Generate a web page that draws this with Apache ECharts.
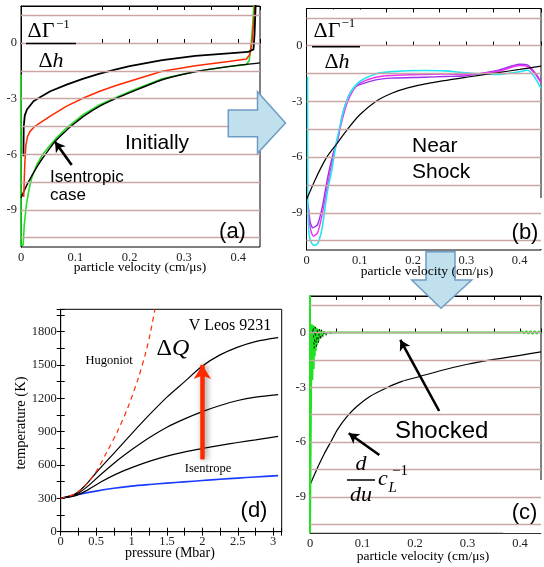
<!DOCTYPE html>
<html><head><meta charset="utf-8">
<script src="https://cdn.jsdelivr.net/npm/echarts@6/dist/echarts.min.js"></script>
<style>html,body{margin:0;padding:0;background:#fff}#c{width:544px;height:567px}</style>
</head><body><div id="c"></div>
<script>
// ---------- tick labels ----------
const velTickLabels = [0, 0.1, 0.2, 0.3, 0.4];
const gammaTickLabels = [0, -3, -6, -9];
const gridLevels = [1.5, 0, -1.5, -3, -4.5, -6, -7.5, -9, -10.5];
const pressTickLabels = [0, 0.5, 1, 1.5, 2, 2.5, 3];
const tempTickLabels = [0, 300, 600, 900, 1200, 1500, 1800];

// ---------- panel (a): Initially ----------
const aGreen = [[0,-1.7],[0,-10.9],[0.004,-10.9],[0.006,-9.8],[0.01,-8.7],[0.015,-7.85],[0.02,-7.25],[0.03,-6.5],[0.04,-6.0],[0.054,-5.5],[0.066,-5.1],[0.084,-4.57],[0.1,-4.2],[0.115,-3.85],[0.145,-3.33],[0.175,-2.93],[0.206,-2.55],[0.26,-1.92],[0.321,-1.53],[0.382,-1.26],[0.415,-1.16],[0.42,-0.95],[0.423,-0.3],[0.426,0.8],[0.429,2.1]];
const aIsentrope = [[0,-8.35],[0.01,-7.7],[0.02,-7.15],[0.03,-6.65],[0.04,-6.2],[0.05,-5.8],[0.063,-5.3],[0.084,-4.7],[0.1,-4.3],[0.115,-3.95],[0.145,-3.4],[0.175,-2.98],[0.206,-2.6],[0.26,-1.98],[0.321,-1.55],[0.382,-1.27],[0.44,-1.07]];
const aRed = [[0.005,-8.3],[0.007,-6.5],[0.009,-5.5],[0.012,-5.05],[0.017,-4.75],[0.025,-4.5],[0.035,-4.3],[0.054,-3.94],[0.084,-3.4],[0.115,-2.96],[0.145,-2.6],[0.175,-2.29],[0.206,-2.01],[0.26,-1.52],[0.321,-1.22],[0.382,-0.99],[0.415,-0.86],[0.421,-0.63],[0.425,0],[0.428,1],[0.431,2.1]];
const aBlack = [[0.0045,-6.1],[0.005,-4.5],[0.007,-3.9],[0.011,-3.58],[0.023,-3.14],[0.035,-2.92],[0.054,-2.6],[0.084,-2.24],[0.115,-1.92],[0.145,-1.65],[0.175,-1.42],[0.2,-1.24],[0.26,-0.92],[0.321,-0.69],[0.382,-0.55],[0.418,-0.48],[0.421,-0.38],[0.428,-0.34],[0.43,0.5],[0.432,2.1]];

// ---------- panel (b): Near Shock ----------
const bBlack = [[0,-8.28],[0.015,-7.3],[0.027,-6.58],[0.039,-5.96],[0.058,-5.24],[0.076,-4.53],[0.1,-3.72],[0.13,-3.0],[0.16,-2.56],[0.19,-2.27],[0.233,-2.0],[0.3,-1.7],[0.36,-1.45],[0.4,-1.28],[0.44,-1.1]];
const bCyan = [[0.002,-1.66],[0.0025,-8.5],[0.005,-10.2],[0.01,-10.65],[0.015,-10.75],[0.02,-10.68],[0.024,-10.45],[0.03,-9.7],[0.039,-7.9],[0.048,-6.6],[0.056,-5.2],[0.064,-4.2],[0.07,-3.45],[0.082,-2.56],[0.1,-1.93],[0.13,-1.52],[0.16,-1.4],[0.221,-1.34],[0.26,-1.36],[0.3,-1.46],[0.36,-1.55],[0.397,-1.42],[0.415,-1.32],[0.427,-1.66],[0.44,-2.3]];
const bMagenta = [[0.003,-8.6],[0.007,-9.8],[0.013,-10.25],[0.021,-10.07],[0.03,-9.0],[0.039,-7.57],[0.05,-6.0],[0.058,-5.1],[0.066,-4.1],[0.076,-3.1],[0.088,-2.38],[0.1,-2.02],[0.13,-1.7],[0.16,-1.61],[0.221,-1.55],[0.26,-1.53],[0.3,-1.55],[0.36,-1.38],[0.4,-1.07],[0.415,-1.13],[0.43,-1.57],[0.44,-2.0]];
const bPurple = [[0.003,-8.5],[0.007,-9.5],[0.012,-9.8],[0.021,-9.62],[0.03,-8.64],[0.039,-7.2],[0.05,-5.8],[0.059,-5.0],[0.066,-3.9],[0.076,-2.92],[0.088,-2.29],[0.1,-2.1],[0.13,-1.84],[0.16,-1.75],[0.221,-1.7],[0.26,-1.66],[0.3,-1.62],[0.36,-1.32],[0.4,-1.0],[0.415,-1.05],[0.43,-1.5],[0.44,-1.95]];

// ---------- panel (c): Shocked ----------
const cBlack = [[0,-8.35],[0.0154,-7.34],[0.0277,-6.61],[0.04,-5.97],[0.052,-5.33],[0.0707,-4.6],[0.089,-4.05],[0.114,-3.5],[0.1445,-3.05],[0.175,-2.68],[0.209,-2.41],[0.25,-2.08],[0.3,-1.74],[0.35,-1.47],[0.4,-1.25],[0.44,-1.06]];
const cGreen = [[0,2.1],[0,-11],[0.002,-11],[0.003,0.45],[0.0045,-2.6],[0.006,0.4],[0.007,-2.0],[0.008,0.35],[0.009,-1.3],[0.01,0.3],[0.011,-1.0],[0.012,0.25],[0.0135,-0.7],[0.015,0.2],[0.0165,-0.45],[0.018,0.15],[0.02,-0.3],[0.022,0.1],[0.024,-0.15],[0.027,0.06],[0.03,-0.06],[0.034,0],[0.4,0],[0.404,0.06],[0.408,-0.05],[0.412,0.07],[0.416,-0.06],[0.42,0.08],[0.424,-0.07],[0.428,0.07],[0.432,-0.06],[0.436,0.05],[0.44,-0.04]];
const cRed = [[0.004,0],[0.44,0]];
const cBlackNoise = [[0.005,0],[0.006,0.3],[0.008,-0.9],[0.01,0.3],[0.012,-0.8],[0.014,0.25],[0.016,-0.6],[0.018,0.2],[0.02,-0.45],[0.022,0.15],[0.025,-0.3],[0.028,0.1],[0.031,-0.15],[0.035,0.05],[0.04,-0.05],[0.045,0],[0.44,0]];

// ---------- panel (d): V Leos 9231 ----------
const dIsentrope = [[0,300],[0.25,335],[0.5,365],[0.75,390],[1.0,410],[1.26,425],[1.5,437],[1.74,448],[2.0,460],[2.25,472],[2.5,482],[2.75,492],[3.07,504]];
const dTop = [[0,300],[0.2,338],[0.35,418],[0.5,530],[0.75,705],[1.0,880],[1.25,1050],[1.5,1210],[1.75,1350],[2.0,1490],[2.25,1590],[2.5,1660],[2.75,1710],[3.07,1745]];
const dMid = [[0,300],[0.2,330],[0.35,392],[0.55,505],[0.8,640],[1.03,750],[1.26,850],[1.5,940],[1.75,1015],[2.0,1080],[2.25,1135],[2.5,1180],[2.75,1210],[3.07,1233]];
const dLow = [[0,300],[0.2,322],[0.35,365],[0.56,445],[0.79,520],[1.03,583],[1.26,635],[1.5,680],[1.74,716],[2.0,748],[2.25,776],[2.5,802],[2.75,826],[3.07,858]];
const dHugoniot = [[0,300],[0.2,338],[0.35,418],[0.5,540],[0.65,715],[0.8,900],[0.95,1120],[1.1,1390],[1.2,1610],[1.27,1800],[1.33,2000]];

// ---------- formatting helpers ----------
const SERIF = "'Liberation Serif', 'DejaVu Serif', serif";
const SANS = "'Liberation Sans', Arial, sans-serif";
const fmtVel = v => { const r = Math.round(v * 100) / 100; return velTickLabels.includes(r) ? String(r) : ''; };
const fmtGamma = v => gammaTickLabels.includes(v) ? String(v) : '';
const fmtPress = v => pressTickLabels.includes(v) ? String(v) : '';
const fmtTemp = v => tempTickLabels.includes(v) ? String(v) : '';

const grids = [
  {left: 21, top: 6, width: 239, height: 241},
  {left: 306.5, top: 8.5, width: 243, height: 241.5},
  {left: 310, top: 296, width: 238.5, height: 237.3},
  {left: 60.7, top: 309.3, width: 221, height: 222.4}
].map(g => Object.assign({show: true, borderColor: '#000', borderWidth: 1, backgroundColor: 'transparent'}, g));

const lbl = (fmt, size) => ({formatter: fmt, fontFamily: SERIF, fontSize: size, color: '#222', margin: 4});
const tick = {show: true, inside: true, length: 4, lineStyle: {color: '#000', width: 1}};
const axLine = {show: true, lineStyle: {color: '#000', width: 1}};

function xPair(gi, max, interval, fmt, size) {
  return [
    {gridIndex: gi, type: 'value', position: 'bottom', min: 0, max, interval, axisLine: axLine, axisTick: tick, axisLabel: lbl(fmt, size), splitLine: {show: false}},
    {gridIndex: gi, type: 'value', position: 'top', min: 0, max, interval, axisLine: axLine, axisTick: tick, axisLabel: {show: false}, splitLine: {show: false}}
  ];
}
const xAxis = [].concat(
  xPair(0, 0.44, 0.05, fmtVel, 12.5),
  xPair(1, 0.44, 0.05, fmtVel, 12.5),
  xPair(2, 0.44, 0.05, fmtVel, 12.5),
  xPair(3, 3.12, 0.25, fmtPress, 12.5)
);
const yGamma = gi => ({gridIndex: gi, type: 'value', min: -11, max: 2, interval: 1, axisLine: axLine, axisTick: {show: false}, axisLabel: lbl(fmtGamma, 12.5), splitLine: {show: false}});
const yAxis = [
  yGamma(0), yGamma(1), yGamma(2),
  {gridIndex: 3, type: 'value', min: 0, max: 2000, interval: 150, axisLine: axLine, axisTick: tick, axisLabel: lbl(fmtTemp, 12.5), splitLine: {show: false}},
  {gridIndex: 3, type: 'value', position: 'right', min: 0, max: 2000, interval: 150, axisLine: axLine, axisTick: tick, axisLabel: {show: false}, splitLine: {show: false}}
];

function curve(data, xi, yi, color, width, extra) {
  return Object.assign({type: 'line', data, xAxisIndex: xi, yAxisIndex: yi, symbol: 'none', showSymbol: false,
    lineStyle: {color, width}, z: 3, silent: true, animation: false}, extra || {});
}
function gridLineSeries(xi, yi) {
  return {type: 'line', data: [], xAxisIndex: xi, yAxisIndex: yi, z: 1, silent: true,
    markLine: {silent: true, symbol: ['none', 'none'], label: {show: false}, animation: false,
      lineStyle: {color: '#c9a6a6', width: 1.3, type: 'solid'},
      emphasis: {disabled: true},
      data: gridLevels.map(v => ({yAxis: v}))}};
}
function arrowSeries(xi, yi, pairs, color, width, size, extraStyle) {
  return {type: 'line', data: [], xAxisIndex: xi, yAxisIndex: yi, z: 6, silent: true,
    markLine: {silent: true, symbol: ['none', 'arrow'], symbolSize: size, label: {show: false}, animation: false,
      lineStyle: Object.assign({color, width, type: 'solid'}, extraStyle || {}),
      emphasis: {disabled: true},
      data: pairs.map(p => [{coord: p[0]}, {coord: p[1]}])}};
}

const series = [
  gridLineSeries(0, 0), gridLineSeries(2, 1), gridLineSeries(4, 2),
  // (a)
  curve(aGreen, 0, 0, '#22e022', 1.6),
  curve(aIsentrope, 0, 0, '#000', 1.4, {smooth: 0.2}),
  curve(aRed, 0, 0, '#ff2a00', 1.5),
  curve(aBlack, 0, 0, '#000', 1.8),
  arrowSeries(0, 0, [[[0.0933, -6.58], [0.0626, -5.32]]], '#000', 2.6, [9, 10]),
  // (b)
  curve(bPurple, 2, 1, '#9933ee', 1.4, {smooth: 0.25}),
  curve(bMagenta, 2, 1, '#f030f0', 1.4, {smooth: 0.25}),
  curve(bCyan, 2, 1, '#22e6f2', 1.6, {smooth: 0.25}),
  curve(bBlack, 2, 1, '#000', 1.2, {smooth: 0.2}),
  // (c)
  curve(cBlack, 4, 2, '#000', 1.2, {smooth: 0.2}),
  curve(cGreen, 4, 2, '#22e022', 2),
  curve(cRed, 4, 2, '#ff2a00', 1, {lineStyle: {color: '#ff2a00', width: 1, type: [3, 4]}}),
  curve(cBlackNoise, 4, 2, '#000', 1, {lineStyle: {color: '#000', width: 1, type: [2, 5]}}),
  arrowSeries(4, 2, [[[0.246, -4.30], [0.172, -0.41]], [[0.132, -6.71], [0.0738, -5.52]]], '#000', 2.6, [9, 10]),
  // (d)
  curve(dIsentrope, 6, 3, '#1a3cff', 1.6, {smooth: 0.3}),
  curve(dLow, 6, 3, '#000', 1.2, {smooth: 0.3}),
  curve(dMid, 6, 3, '#000', 1.2, {smooth: 0.3}),
  curve(dTop, 6, 3, '#000', 1.2, {smooth: 0.3}),
  curve(dHugoniot, 6, 3, '#ff2a00', 1.2, {smooth: 0.3, lineStyle: {color: '#ff2a00', width: 1.2, type: [5, 4]}}),
  arrowSeries(6, 3, [[[2.0, 650], [2.0, 1500]]], '#ff2a00', 4.5, [13, 14],
    {shadowColor: 'rgba(0,0,0,0.45)', shadowBlur: 6, shadowOffsetX: 2, shadowOffsetY: 0})
];

// ---------- text & decorations ----------
const txt = (x, y, text, font, align, extra) => ({type: 'text', x, y, z: 30, silent: true,
  style: Object.assign({text, font, fill: '#000', textAlign: align || 'left', textVerticalAlign: 'middle'}, extra || {})});
const box = (x, y, w, h) => ({type: 'rect', z: 2, silent: true, shape: {x, y, width: w, height: h}, style: {fill: '#fff'}});
const hline = (x1, x2, y) => ({type: 'line', z: 30, silent: true, shape: {x1, y1: y, x2, y2: y}, style: {stroke: '#000', lineWidth: 1.5}});
const richDh = (x, y) => ({type: 'text', x, y, z: 30, silent: true, style: {text: '{a|Δ}{b|h}', textAlign: 'center', textVerticalAlign: 'middle',
  rich: {a: {font: "22px " + SERIF, fill: '#000'}, b: {font: "italic 22px " + SERIF, fill: '#000'}}}});

const arrowFill = '#bfe0ec', arrowStroke = '#6f9cc4';
const graphic = [
  box(22, 7, 61, 69), box(213, 195, 46, 51),
  box(307.5, 9.5, 60, 69), box(502, 198, 46, 51),
  box(503, 480, 46, 53),
  // (a) labels
  txt(41, 31, 'ΔΓ', "22px " + SERIF, 'center'),
  txt(56, 24.5, '−1', "13px " + SERIF),
  hline(26, 76, 43.5),
  richDh(51, 61),
  txt(157, 143, 'Initially', "21px " + SANS, 'center'),
  txt(50, 177.5, 'Isentropic', "17px " + SANS),
  txt(50, 195, 'case', "17px " + SANS),
  txt(232.5, 232, '(a)', "22px " + SANS, 'center'),
  txt(140, 267, 'particle velocity (cm/μs)', "13.5px " + SERIF, 'center'),
  // (b)
  txt(327, 31, 'ΔΓ', "22px " + SERIF, 'center'),
  txt(341.5, 24, '−1', "13px " + SERIF),
  hline(312, 360, 46.7),
  richDh(337, 62),
  txt(412, 146, 'Near', "21px " + SANS),
  txt(412, 172.5, 'Shock', "21px " + SANS),
  txt(525, 233, '(b)', "22px " + SANS, 'center'),
  txt(427, 271.5, 'particle velocity (cm/μs)', "13.5px " + SERIF, 'center'),
  // (c)
  txt(395, 431, 'Shocked', "24px " + SANS),
  txt(361, 464, 'd', "italic 22px " + SERIF, 'center'),
  hline(347, 375, 480),
  txt(361, 495, 'du', "italic 22px " + SERIF, 'center'),
  txt(383, 479, 'c', "italic 22px " + SERIF, 'center'),
  txt(388.5, 488, 'L', "italic 15px " + SERIF),
  txt(392, 471, '−1', "15px " + SERIF),
  txt(524.5, 513, '(c)', "22px " + SANS, 'center'),
  txt(423, 556, 'particle velocity (cm/μs)', "13.5px " + SERIF, 'center'),
  // (d)
  txt(230, 326, 'V Leos 9231', "16px " + SERIF, 'center'),
  {type: 'text', x: 173, y: 349, z: 30, silent: true, style: {text: '{a|Δ}{b|Q}', textAlign: 'center', textVerticalAlign: 'middle',
    rich: {a: {font: "24px " + SERIF, fill: '#000'}, b: {font: "italic 24px " + SERIF, fill: '#000'}}}},
  txt(109, 361, 'Hugoniot', "12.5px " + SERIF, 'center'),
  txt(208, 469, 'Isentrope', "12.5px " + SERIF, 'center'),
  txt(254, 511, '(d)', "22px " + SANS, 'center'),
  txt(170, 553, 'pressure (Mbar)', "14px " + SERIF, 'center'),
  {type: 'text', x: 21, y: 423, rotation: Math.PI / 2, z: 30, silent: true,
    style: {text: 'temperature (K)', font: "14.5px " + SERIF, fill: '#000', textAlign: 'center', textVerticalAlign: 'middle'}},
  // block arrows
  {type: 'polygon', z: 20, silent: true, shape: {points: [[228.3, 110], [257.5, 110], [257.5, 91.7], [285.5, 123], [257.5, 153.3], [257.5, 136.7], [228.3, 136.7]]},
    style: {fill: arrowFill, stroke: arrowStroke, lineWidth: 1.5}},
  {type: 'polygon', z: 20, silent: true, shape: {points: [[426, 251.7], [455, 251.7], [455, 280], [471.7, 280], [441, 308.3], [411.7, 280], [426, 280]]},
    style: {fill: arrowFill, stroke: arrowStroke, lineWidth: 1.5}}
];

const chart = echarts.init(document.getElementById('c'), null, {renderer: 'canvas'});
chart.setOption({animation: false, backgroundColor: '#fff', grid: grids, xAxis, yAxis, series, graphic});
</script></body></html>
